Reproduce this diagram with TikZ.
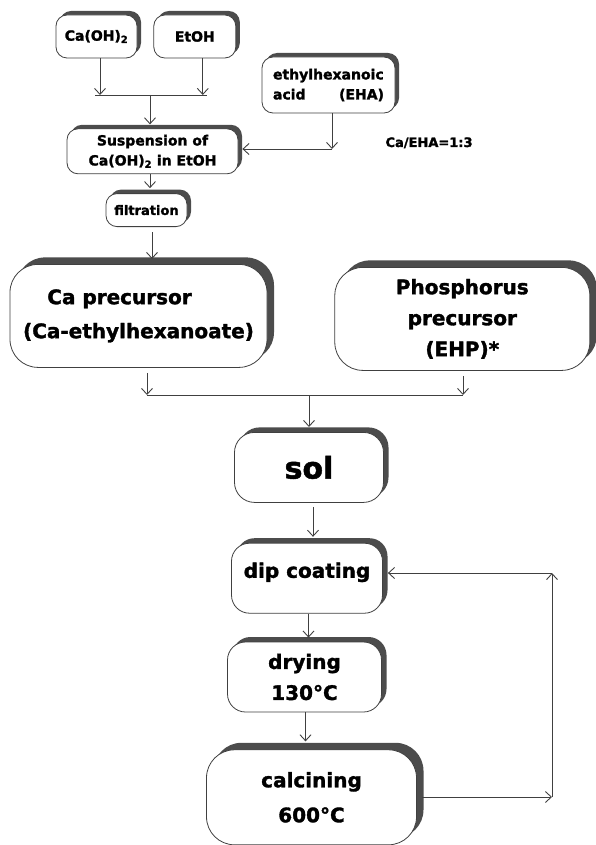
\documentclass[tikz,border=0pt]{standalone}
\usepackage{fontspec}
\setmainfont{DejaVu Sans}[BoldFeatures={FakeBold=1.6}]
\usetikzlibrary{positioning,shadows,arrows.meta}

\begin{document}
\begin{tikzpicture}[
        x=1pt, y=-1pt,
        box/.style={rectangle, draw=black!75, line width=0.8pt, fill=white, rounded corners=11pt, align=center, inner sep=2pt, font=\bfseries\fontsize{14}{20}\selectfont, drop shadow={shadow xshift=#1, shadow yshift=#1, fill=black!70, opacity=1}},
        box/.default=4pt,
        link/.style={draw=black!75, line width=0.9pt},
        arrow/.style={link, -{Straight Barb[length=6pt,width=11pt]}},
        note/.style={font=\bfseries\fontsize{13}{16}\selectfont}
    ]
    \useasboundingbox (0,0) rectangle (596,845);

    % Top: starting materials
    \node[box, minimum width=81pt, minimum height=43pt] (caoh) at (96.5,36.5) {Ca(OH)\textsubscript{2}};
    \node[box, minimum width=82pt, minimum height=43pt, right=16pt of caoh] (etoh) {EtOH};
    \node[box, minimum width=133pt, minimum height=56pt, text width=111pt, align=left] (eha) at (328.5,85) {ethylhexanoic\\acid\hspace{0pt plus 1filll}(EHA)};
    \node[note, anchor=base west] (ratio) at (382,147) {Ca/EHA=1:3};

    % Suspension and filtration
    \node[box, minimum width=171pt, minimum height=45pt, below=70pt of caoh, xshift=56pt] (susp) {Suspension of\\Ca(OH)\textsubscript{2} in EtOH};
    \node[box, minimum width=81pt, minimum height=33pt, font=\bfseries\fontsize{13}{16}\selectfont, below=19pt of susp, xshift=-6pt] (filt) {filtration};

    % Precursors
    \node[box=7pt, rounded corners=28pt, minimum width=257pt, minimum height=103pt, font=\bfseries\fontsize{20}{34}\selectfont, below=37pt of filt, xshift=-8pt] (caprec) {Ca precursor\hspace*{38pt}\\(Ca-ethylhexanoate)};
    \node[box=7pt, rounded corners=28pt, minimum width=255pt, minimum height=103pt, font=\bfseries\fontsize{20}{31}\selectfont, right=67pt of caprec, yshift=-3pt] (phos) {Phosphorus\\precursor\\(EHP)*};

    \coordinate (join) at (150,95);
    \coordinate (joinL) at (95,95);
    \coordinate (joinR) at (207,95);
    \coordinate (ehaturn) at (332,149);
    \coordinate (merge) at (309,395);
    \coordinate (mergeL) at (147,395);
    \coordinate (mergeR) at (463,395);

    % Process chain
    \node[box=5pt, rounded corners=20pt, minimum width=149pt, minimum height=70pt, font=\bfseries\fontsize{30}{36}\selectfont, below=37pt of merge] (sol) {sol};
    \node[box=5pt, rounded corners=18pt, minimum width=151pt, minimum height=70pt, font=\bfseries\fontsize{20}{31}\selectfont, text depth=16pt, below=40pt of sol, xshift=-2pt] (dip) {dip coating};
    \node[box=5pt, rounded corners=18pt, minimum width=154pt, minimum height=70pt, font=\bfseries\fontsize{20}{31}\selectfont, below=28pt of dip, xshift=-2.5pt] (dry) {drying\\130°C};
    \node[box=7pt, rounded corners=28pt, minimum width=210pt, minimum height=95pt, font=\bfseries\fontsize{20}{35}\selectfont, below=37pt of dry, xshift=7pt] (calc) {calcining\\600°C};

    \coordinate (loopB) at (552,797);
    \coordinate (loopT) at (552,573);

    % Arrows
    \draw[arrow] ([xshift=3.5pt]caoh.south) -- ([xshift=3.5pt]caoh.south |- join);
    \draw[arrow] ([xshift=8pt]etoh.south) -- ([xshift=8pt]etoh.south |- join);
    \draw[link] (joinL) -- (joinR);
    \draw[arrow, shorten >=4pt] (join) -- (join |- susp.north);
    \draw[arrow] ([xshift=3.5pt]eha.south) -- (ehaturn);
    \draw[arrow, shorten >=4pt] (ehaturn) -- (ehaturn -| susp.east);
    \draw[arrow, shorten >=5pt] ([xshift=-2.5pt]susp.south) -- ([xshift=-2.5pt]susp.south |- filt.north);
    \draw[arrow, shorten <=5pt, shorten >=5pt] ([xshift=5.5pt]filt.south) -- ([xshift=5.5pt]filt.south |- caprec.north);
    \draw[arrow, shorten <=5pt] (caprec.south -| mergeL) -- (mergeL);
    \draw[arrow, shorten <=5pt] (phos.south -| mergeR) -- (mergeR);
    \draw[link] (mergeL) -- (mergeR);
    \draw[arrow, shorten >=5pt] (merge) -- (merge |- sol.north);
    \draw[arrow, shorten <=4pt, shorten >=6pt] ([xshift=4pt]sol.south) -- ([xshift=4pt]sol.south |- dip.north);
    \draw[arrow, shorten >=4pt] ([xshift=1.5pt]dip.south) -- ([xshift=1.5pt]dip.south |- dry.north);
    \draw[arrow, shorten >=8pt] ([xshift=1pt]dry.south) -- ([xshift=1pt]dry.south |- calc.north);

    % Feedback loop
    \draw[arrow, shorten <=5pt] (calc.east |- loopB) -- (loopB);
    \draw[arrow] (loopB) -- (loopT);
    \draw[arrow, shorten >=5pt] (loopT) -- (loopT -| dip.east);
\end{tikzpicture}
\end{document}
